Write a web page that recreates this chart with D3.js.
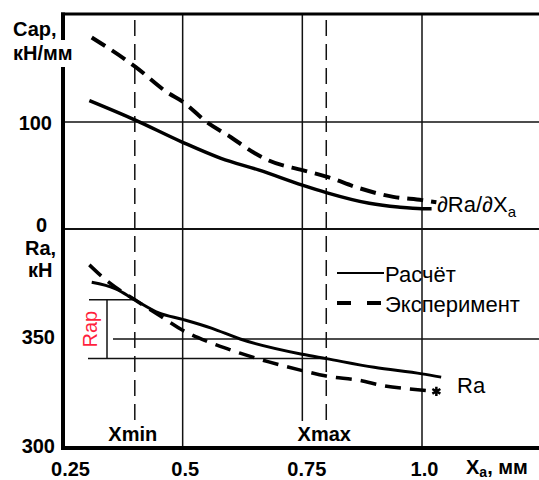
<!DOCTYPE html>
<html>
<head>
<meta charset="utf-8">
<script src="https://cdn.jsdelivr.net/npm/d3@7"></script>
<style>
  body { margin: 0; background: #fff; }
  svg { display: block; font-family: "Liberation Sans", Arial, sans-serif; }
</style>
</head>
<body>
<div id="chart"></div>
<script>
// x axis, Xa in mm
var xTicks = [0.25, 0.5, 0.75, 1.0]
var xTickLabels = ["0.25", "0.5", "0.75", "1.0"]
var xMin = 0.4
var xMax = 0.8

// upper panel: Cap = dRa/dXa, kN/mm
var capTicks = [0, 100]
var capCalcX = [0.305, 0.40, 0.50, 0.58, 0.66, 0.75, 0.80, 0.89, 0.95, 1.00, 1.02]
var capCalcY = [120, 102, 81, 66, 55, 41, 34, 24, 20.5, 19, 19]
var capExpX = [0.31, 0.40, 0.47, 0.50, 0.55, 0.60, 0.65, 0.68, 0.75, 0.80, 0.87, 0.94, 1.00, 1.03]
var capExpY = [179, 152, 127, 119, 100, 86, 71, 64, 55, 49, 38, 30, 27, 25]

// lower panel: Ra, kN
var raTicks = [300, 350]
var raCalcX = [0.31, 0.36, 0.40, 0.45, 0.50, 0.56, 0.62, 0.75, 0.80, 0.90, 1.00, 1.04]
var raCalcY = [376, 373, 368, 362, 359, 355, 350, 343, 341, 337, 334, 332.5]
var raExpX = [0.305, 0.34, 0.40, 0.45, 0.50, 0.55, 0.60, 0.62, 0.68, 0.75, 0.80, 0.87, 0.92, 0.98, 1.03]
var raExpY = [384, 377, 368, 361, 354, 349, 345, 343.5, 339.5, 335.5, 333, 331, 328.5, 327, 326]

var legendNames = ["Расчёт", "Эксперимент"]

function zipPts(xs, ys) {
  return xs.map(function(d, i) { return [d, ys[i]] })
}

function makeChart(parentName) {
  var width = 539, height = 480

  var svg = d3.select("#" + parentName)
    .append("svg")
      .attr("width", width)
      .attr("height", height)

  // scales
  var x = d3.scaleLinear().domain([0.25, 1.0]).range([63, 422])
  var yTop = d3.scaleLinear().domain([0, 100]).range([229, 122])
  var yBot = d3.scaleLinear().domain([300, 350]).range([448, 339])

  var top = 14, bottom = yBot(300), right = width

  // vertical grid lines (0.75 stops above the Xmax label)
  svg.selectAll("vgrid")
    .data(xTicks.slice(1))
    .enter()
    .append("line")
      .attr("x1", function(d) { return x(d) })
      .attr("x2", function(d) { return x(d) })
      .attr("y1", top)
      .attr("y2", function(d) { return d == 0.75 ? 421 : bottom })
      .attr("stroke", "#111")
      .attr("stroke-width", 1.5)

  // horizontal grid lines
  svg.append("line")
    .attr("x1", x(0.25)).attr("x2", right)
    .attr("y1", yTop(100)).attr("y2", yTop(100))
    .attr("stroke", "#111").attr("stroke-width", 1.5)
  svg.append("line")
    .attr("x1", x(0.25)).attr("x2", right)
    .attr("y1", yTop(0)).attr("y2", yTop(0))
    .attr("stroke", "#111").attr("stroke-width", 2)
  svg.append("line")
    .attr("x1", 113).attr("x2", right)
    .attr("y1", yBot(350)).attr("y2", yBot(350))
    .attr("stroke", "#111").attr("stroke-width", 1.5)

  // Xmin / Xmax dashed verticals
  svg.selectAll("xlim")
    .data([xMin, xMax])
    .enter()
    .append("line")
      .attr("x1", function(d) { return x(d) })
      .attr("x2", function(d) { return x(d) })
      .attr("y1", top + 6)
      .attr("y2", 421)
      .attr("stroke", "#111")
      .attr("stroke-width", 1.5)
      .attr("stroke-dasharray", "16,8")

  svg.selectAll("xlimlabel")
    .data([xMin, xMax])
    .enter()
    .append("text")
      .attr("x", function(d) { return x(d) - 2 })
      .attr("y", 441)
      .attr("text-anchor", "middle")
      .style("font-size", "20px")
      .style("font-weight", "bold")
      .text(function(d) { return d == xMin ? "Xmin" : "Xmax" })

  // Rap bracket between Ra(Xmin) and Ra(Xmax)
  var raAtMin = 368, raAtMax = 341
  svg.append("line")
    .attr("x1", 89).attr("x2", x(xMin))
    .attr("y1", yBot(raAtMin)).attr("y2", yBot(raAtMin))
    .attr("stroke", "#111").attr("stroke-width", 1.5)
  svg.append("line")
    .attr("x1", 88).attr("x2", x(xMax))
    .attr("y1", yBot(raAtMax)).attr("y2", yBot(raAtMax))
    .attr("stroke", "#111").attr("stroke-width", 1.5)
  svg.append("line")
    .attr("x1", 107).attr("x2", 107)
    .attr("y1", yBot(raAtMin)).attr("y2", yBot(raAtMax))
    .attr("stroke", "#111").attr("stroke-width", 1.5)
  svg.append("text")
    .attr("transform", "translate(97," + (yBot((raAtMin + raAtMax) / 2)) + ") rotate(-90)")
    .attr("text-anchor", "middle")
    .style("font-size", "20px")
    .style("fill", "#ff1f3d")
    .text("Rap")

  // curves
  var lineTop = d3.line()
    .x(function(d) { return x(d[0]) })
    .y(function(d) { return yTop(d[1]) })
    .curve(d3.curveMonotoneX)
  var lineBot = d3.line()
    .x(function(d) { return x(d[0]) })
    .y(function(d) { return yBot(d[1]) })
    .curve(d3.curveMonotoneX)

  svg.append("path")
    .attr("d", lineTop(zipPts(capCalcX, capCalcY)))
    .attr("fill", "none").attr("stroke", "#000").attr("stroke-width", 3.5)
  svg.append("path")
    .attr("d", lineTop(zipPts(capExpX, capExpY)))
    .attr("fill", "none").attr("stroke", "#000").attr("stroke-width", 4)
    .attr("stroke-dasharray", "16,8")
  svg.append("path")
    .attr("d", lineBot(zipPts(raCalcX, raCalcY)))
    .attr("fill", "none").attr("stroke", "#000").attr("stroke-width", 3)
  svg.append("path")
    .attr("d", lineBot(zipPts(raExpX, raExpY)))
    .attr("fill", "none").attr("stroke", "#000").attr("stroke-width", 3.5)
    .attr("stroke-dasharray", "16,9")

  // star at the end of the experimental Ra line
  var last = raExpX.length - 1
  svg.append("path")
    .attr("d", d3.symbol().type(d3.symbolAsterisk).size(60)())
    .attr("transform", "translate(" + x(raExpX[last]) + "," + yBot(raExpY[last]) + ")")
    .attr("stroke", "#000").attr("stroke-width", 2.5).attr("fill", "none")

  // curve names
  var dlab = svg.append("text")
    .attr("x", 437).attr("y", 212)
    .style("font-size", "22px")
  dlab.append("tspan").text("∂Ra/∂X")
  dlab.append("tspan").attr("dy", 5).style("font-size", "15px").text("a")

  svg.append("text")
    .attr("x", 457).attr("y", 393)
    .style("font-size", "22px")
    .text("Ra")

  // legend
  svg.selectAll("legline")
    .data(legendNames)
    .enter()
    .append("line")
      .attr("x1", 337).attr("x2", 384)
      .attr("y1", function(d, i) { return 273 + i * 30 })
      .attr("y2", function(d, i) { return 273 + i * 30 })
      .attr("stroke", "#000")
      .attr("stroke-width", function(d, i) { return i == 0 ? 2 : 4 })
      .attr("stroke-dasharray", function(d, i) { return i == 0 ? null : "14,16" })
  svg.selectAll("legtext")
    .data(legendNames)
    .enter()
    .append("text")
      .attr("x", 385)
      .attr("y", function(d, i) { return 282 + i * 30 })
      .style("font-size", "22px")
      .text(function(d) { return d })

  // axes
  var xAxis = svg.append("g")
    .attr("transform", "translate(0," + bottom + ")")
    .call(d3.axisBottom(x).tickValues(xTicks).tickSize(0).tickPadding(14)
      .tickFormat(function(d, i) { return xTickLabels[i] }))
  xAxis.select(".domain").remove()
  xAxis.selectAll("text")
    .style("font-size", "20px").style("font-weight", "bold").style("fill", "#000")
    .attr("dx", function(d, i) { return i == 0 ? 7 : (i == 2 ? 4 : 2) })

  var topAxis = svg.append("g")
    .attr("transform", "translate(" + x(0.25) + ",0)")
    .call(d3.axisLeft(yTop).tickValues(capTicks).tickSize(0).tickPadding(11))
  topAxis.select(".domain").remove()
  topAxis.selectAll("text")
    .style("font-size", "20px").style("font-weight", "bold").style("fill", "#000")
    .attr("dx", function(d) { return d == 0 ? -5 : 0 })
    .attr("dy", function(d) { return d == 0 ? "0.1em" : "0.35em" })

  var botAxis = svg.append("g")
    .attr("transform", "translate(" + x(0.25) + ",0)")
    .call(d3.axisLeft(yBot).tickValues(raTicks).tickSize(0).tickPadding(8))
  botAxis.select(".domain").remove()
  botAxis.selectAll("text")
    .style("font-size", "20px").style("font-weight", "bold").style("fill", "#000")
    .attr("dy", "0.22em")

  // frame: left axis (gap for the unit label), top and bottom
  svg.append("line")
    .attr("x1", x(0.25)).attr("x2", x(0.25)).attr("y1", top - 1.5).attr("y2", 40)
    .attr("stroke", "#000").attr("stroke-width", 4)
  svg.append("line")
    .attr("x1", x(0.25)).attr("x2", x(0.25)).attr("y1", 67).attr("y2", bottom + 2)
    .attr("stroke", "#000").attr("stroke-width", 4)
  svg.append("line")
    .attr("x1", x(0.25) - 2).attr("x2", right).attr("y1", top).attr("y2", top)
    .attr("stroke", "#000").attr("stroke-width", 3)
  svg.append("line")
    .attr("x1", x(0.25) - 2).attr("x2", right).attr("y1", bottom).attr("y2", bottom)
    .attr("stroke", "#000").attr("stroke-width", 4)

  // axis titles
  var titles = [["Сар,", 13, 36], ["кН/мм", 13, 60], ["Ra,", 25, 255], ["кН", 28, 277]]
  svg.selectAll("ytitle")
    .data(titles)
    .enter()
    .append("text")
      .attr("x", function(d) { return d[1] })
      .attr("y", function(d) { return d[2] })
      .style("font-size", "20px")
      .style("font-weight", "bold")
      .text(function(d) { return d[0] })

  var xt = svg.append("text")
    .attr("x", 466).attr("y", 474)
    .style("font-size", "20px").style("font-weight", "bold")
  xt.append("tspan").text("X")
  xt.append("tspan").attr("dy", 3).style("font-size", "14px").text("a")
  xt.append("tspan").attr("dy", -3).text(", мм")
}

makeChart("chart")
</script>
</body>
</html>
